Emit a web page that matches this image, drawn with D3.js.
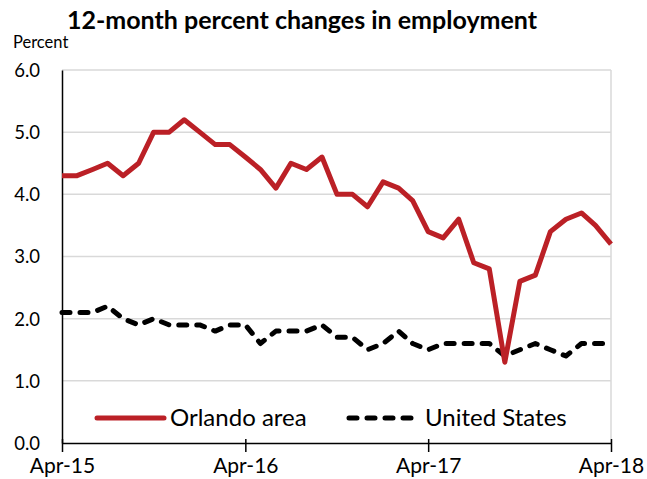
<!DOCTYPE html>
<html>
<head>
<meta charset="utf-8">
<script src="https://cdn.jsdelivr.net/npm/d3@7"></script>
<style>
  body { margin: 0; background: #fff; }
  text { font-family: Lato, "Open Sans", sans-serif; fill: #000; }
</style>
</head>
<body>
<svg id="chart" width="647" height="479"></svg>
<script>
// monthly, Apr-15 .. Apr-18
var startMonth = new Date(2015, 3, 1);
var orlando = [4.3, 4.3, 4.4, 4.5, 4.3, 4.5, 5.0, 5.0, 5.2, 5.0, 4.8, 4.8,
               4.6, 4.4, 4.1, 4.5, 4.4, 4.6, 4.0, 4.0, 3.8, 4.2, 4.1, 3.9,
               3.4, 3.3, 3.6, 2.9, 2.8, 1.3, 2.6, 2.7, 3.4, 3.6, 3.7, 3.5, 3.2];
var unitedStates = [2.1, 2.1, 2.1, 2.2, 2.0, 1.9, 2.0, 1.9, 1.9, 1.9, 1.8, 1.9,
                    1.9, 1.6, 1.8, 1.8, 1.8, 1.9, 1.7, 1.7, 1.5, 1.6, 1.8, 1.6,
                    1.5, 1.6, 1.6, 1.6, 1.6, 1.4, 1.5, 1.6, 1.5, 1.4, 1.6, 1.6, 1.6];
var yTicks = [0, 1, 2, 3, 4, 5, 6];
var xTickLabels = ['Apr-15', 'Apr-16', 'Apr-17', 'Apr-18'];
var seriesNames = ['Orlando area', 'United States'];

var svg = d3.select('#chart');
var margin = {top: 70, right: 36, bottom: 36, left: 62};
var width = 647 - margin.left - margin.right,
    height = 479 - margin.top - margin.bottom;

var dates = orlando.map(function(d, i) { return d3.timeMonth.offset(startMonth, i); });
var x = d3.scaleTime().domain([dates[0], dates[dates.length - 1]]).range([0, width]);
var y = d3.scaleLinear().domain([0, 6]).range([height, 0]);

var g = svg.append('g').attr('transform', 'translate(' + margin.left + ',' + margin.top + ')');

// gridlines
g.append('g').selectAll('line')
  .data(yTicks.slice(1)).enter().append('line')
  .attr('x1', 0).attr('x2', width)
  .attr('y1', function(d) { return y(d); }).attr('y2', function(d) { return y(d); })
  .attr('stroke', '#d9d9d9').attr('stroke-width', 1.5);
g.append('line')
  .attr('x1', width).attr('x2', width).attr('y1', 0).attr('y2', height)
  .attr('stroke', '#d9d9d9').attr('stroke-width', 1.5);

// y axis
var yAxis = g.append('g')
  .call(d3.axisLeft(y).tickValues(yTicks).tickSize(0).tickPadding(22)
    .tickFormat(d3.format('.1f')));
yAxis.select('.domain').attr('stroke', '#000').attr('stroke-width', 1.5);
yAxis.selectAll('text').style('font-size', '18.5px').attr('dy', '0.35em');

// x axis
var xTickDates = xTickLabels.map(function(d) { return d3.timeParse('%b-%y')(d); });
var xAxis = g.append('g').attr('transform', 'translate(0,' + height + ')')
  .call(d3.axisBottom(x).tickValues(xTickDates).tickSizeOuter(0).tickSizeInner(9)
    .tickPadding(6).tickFormat(function(d, i) { return xTickLabels[i]; }));
xAxis.select('.domain').attr('stroke', '#000').attr('stroke-width', 1.5);
xAxis.selectAll('.tick line').attr('stroke', '#000').attr('stroke-width', 1.5).attr('y1', -4);
xAxis.selectAll('text').style('font-size', '21px');

var line = d3.line()
  .x(function(d, i) { return x(dates[i]); })
  .y(function(d) { return y(d); });

g.append('path').datum(unitedStates)
  .attr('d', line).attr('fill', 'none')
  .attr('stroke', '#000').attr('stroke-width', 5)
  .attr('stroke-dasharray', '8,10').attr('stroke-linecap', 'round')
  .attr('stroke-linejoin', 'round');

g.append('path').datum(orlando)
  .attr('d', line).attr('fill', 'none')
  .attr('stroke', '#bb2026').attr('stroke-width', 5)
  .attr('stroke-linejoin', 'round');

// legend
var legend = svg.append('g');
legend.append('line').attr('x1', 97).attr('x2', 164).attr('y1', 418).attr('y2', 418)
  .attr('stroke', '#bb2026').attr('stroke-width', 5).attr('stroke-linecap', 'round');
legend.append('text').attr('x', 170).attr('y', 418).attr('dy', '0.35em')
  .style('font-size', '24px').text(seriesNames[0]);
legend.append('line').attr('x1', 349).attr('x2', 419).attr('y1', 418).attr('y2', 418)
  .attr('stroke', '#000').attr('stroke-width', 5).attr('stroke-linecap', 'round')
  .attr('stroke-dasharray', '8,10');
legend.append('text').attr('x', 425).attr('y', 418).attr('dy', '0.35em')
  .style('font-size', '24px').text(seriesNames[1]);

// titles
svg.append('text').attr('x', 302).attr('y', 29).attr('text-anchor', 'middle')
  .style('font-size', '25px').style('font-weight', 'bold')
  .text('12-month percent changes in employment');
svg.append('text').attr('x', 13).attr('y', 48)
  .style('font-size', '16.5px').text('Percent');
</script>
</body>
</html>
